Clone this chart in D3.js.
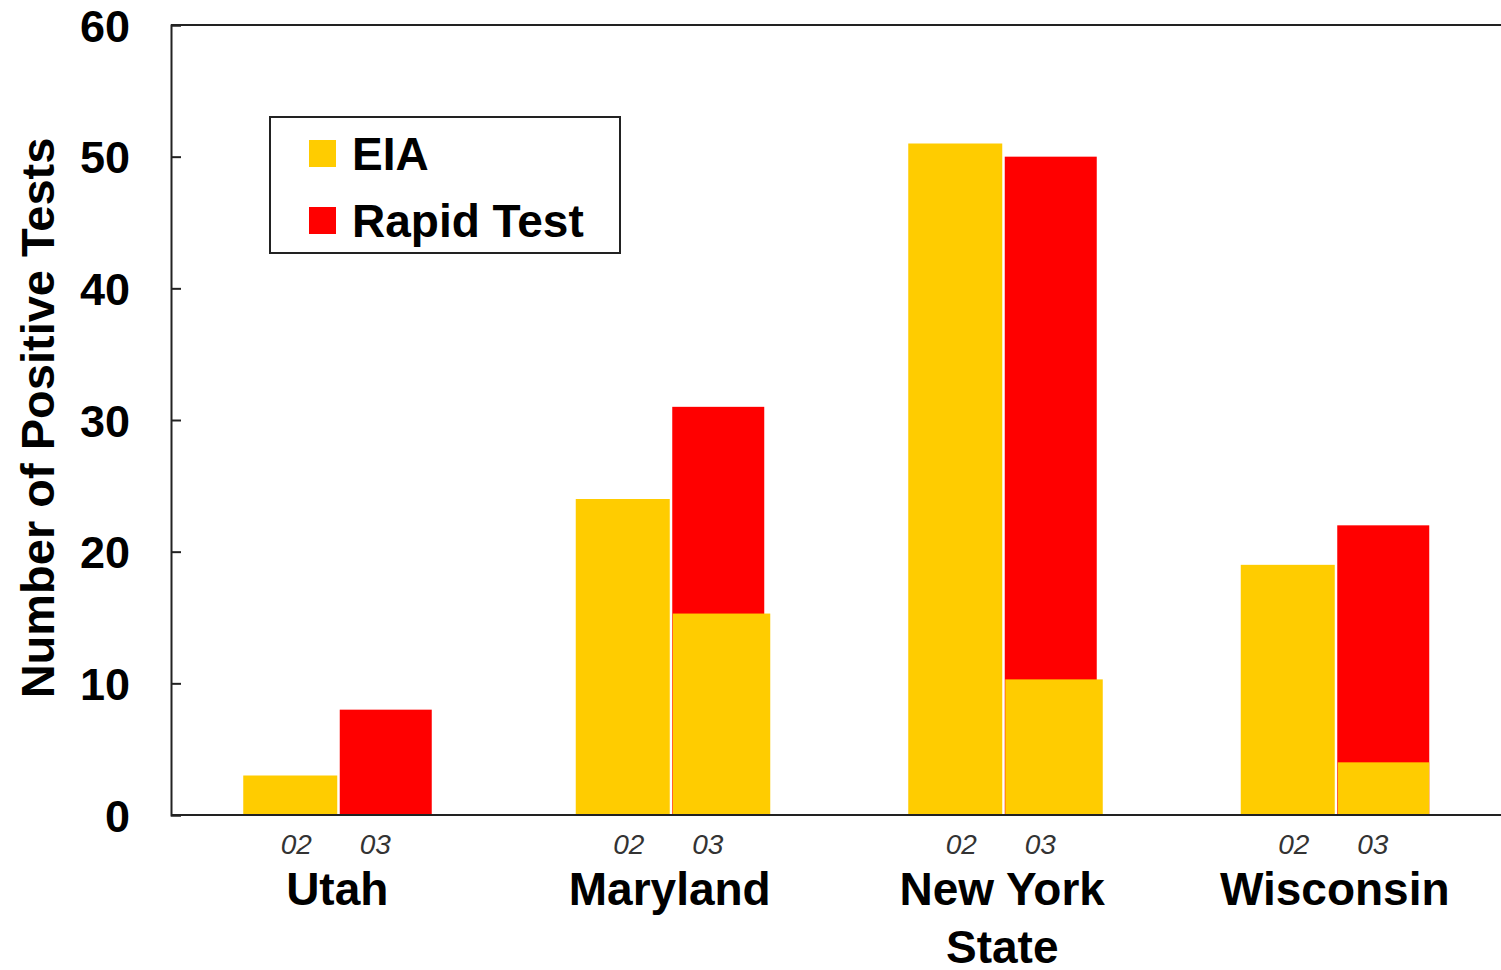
<!DOCTYPE html>
<html>
<head>
<meta charset="utf-8">
<script src="https://cdn.jsdelivr.net/npm/d3@7"></script>
<style>
  html, body { margin: 0; padding: 0; background: #fff; }
  svg { display: block; }
  text { font-family: "Liberation Sans", Arial, sans-serif; }
</style>
</head>
<body>
<svg id="chart" width="1501" height="970"></svg>
<script>
// ---- Data ----
const states = ["Utah", "Maryland", "New York State", "Wisconsin"];
const years = ["02", "03"];
const eia2002 = [3, 24, 51, 19];
const rapid2003 = [8, 31, 50, 22];
const eia2003 = [0, 15.3, 10.3, 4];
const yTicks = [0, 10, 20, 30, 40, 50, 60];
const seriesNames = ["EIA", "Rapid Test"];
const seriesColors = ["#FFCC00", "#FF0000"];

(function () {
// ---- Layout ----
const svg = d3.select("#chart");
const mLeft = 171, mRight = 1501, mTop = 25, mBottom = 815;

const x = d3.scaleBand().domain(states).range([mLeft, mRight]).padding(0);
const y = d3.scaleLinear().domain([0, 60]).range([mBottom, mTop]);
const barW = 94;

function center(i) { return x(states[i]) + x.bandwidth() / 2; }

// Bars
const g = svg.append("g");
states.forEach((s, i) => {
  const c = center(i);
  g.append("rect")
    .attr("x", c - barW).attr("y", y(eia2002[i]))
    .attr("width", barW).attr("height", y(0) - y(eia2002[i]))
    .attr("fill", seriesColors[0]);
  g.append("rect")
    .attr("x", c + 2.5).attr("y", y(rapid2003[i]))
    .attr("width", barW - 2).attr("height", y(0) - y(rapid2003[i]))
    .attr("fill", seriesColors[1]);
  if (eia2003[i] > 0) {
    g.append("rect")
      .attr("x", c + 3).attr("y", y(eia2003[i]))
      .attr("width", barW - 2.5 + (i === 3 ? 0 : 6)).attr("height", y(0) - y(eia2003[i]))
      .attr("fill", seriesColors[0]);
  }
});

// Frame lines
svg.append("line").attr("x1", mLeft).attr("x2", mRight).attr("y1", mTop).attr("y2", mTop)
  .attr("stroke", "#222").attr("stroke-width", 2);
svg.append("line").attr("x1", mLeft).attr("x2", mRight).attr("y1", mBottom).attr("y2", mBottom)
  .attr("stroke", "#222").attr("stroke-width", 2);

// Y axis with inward ticks
const yAxis = d3.axisLeft(y).tickValues(yTicks).tickSize(-10).tickPadding(41);
const ya = svg.append("g").attr("transform", `translate(${mLeft},0)`).call(yAxis);
ya.select(".domain").attr("stroke", "#222").attr("stroke-width", 2);
ya.selectAll(".tick line").attr("stroke", "#222").attr("stroke-width", 2);
ya.selectAll(".tick text")
  .attr("font-size", 45).attr("font-weight", "bold").attr("fill", "#000")
  .attr("font-family", "Liberation Sans, Arial, sans-serif")
  .attr("dy", "0.36em");

// Y title
svg.append("text")
  .attr("transform", `translate(54,418) rotate(-90)`)
  .attr("text-anchor", "middle")
  .attr("font-size", 47).attr("font-weight", "bold").attr("fill", "#000")
  .text("Number of Positive Tests");

// Year labels
const yearOffset = { "02": -41, "03": 38 };
states.forEach((s, i) => {
  years.forEach(yr => {
    svg.append("text")
      .attr("x", center(i) + yearOffset[yr]).attr("y", 854)
      .attr("text-anchor", "middle")
      .attr("font-size", 28).attr("font-style", "italic").attr("fill", "#333")
      .text(yr);
  });
});

// State labels
states.forEach((s, i) => {
  const lines = s === "New York State" ? ["New York", "State"] : [s];
  lines.forEach((ln, k) => {
    svg.append("text")
      .attr("x", center(i)).attr("y", 905 + k * 58)
      .attr("text-anchor", "middle")
      .attr("font-size", 46).attr("font-weight", "bold").attr("fill", "#000")
      .text(ln);
  });
});

// Legend
const lg = svg.append("g");
lg.append("rect").attr("x", 270).attr("y", 117).attr("width", 350).attr("height", 136)
  .attr("fill", "#fff").attr("stroke", "#222").attr("stroke-width", 2);
seriesNames.forEach((n, k) => {
  lg.append("rect").attr("x", 309).attr("y", 140 + k * 67).attr("width", 27).attr("height", 27)
    .attr("fill", seriesColors[k]);
  lg.append("text").attr("x", 352).attr("y", 170 + k * 67)
    .attr("font-size", 46).attr("font-weight", "bold").attr("fill", "#000")
    .text(n);
});
})();
</script>
</body>
</html>
